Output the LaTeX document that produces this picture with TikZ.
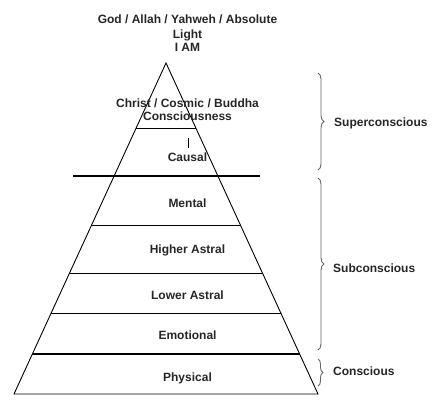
\documentclass[tikz,border=0pt]{standalone}
\usepackage{fontspec}
\setmainfont{Liberation Sans}
\usetikzlibrary{calc,decorations.pathreplacing}
\begin{document}
\begin{tikzpicture}[x=1pt,y=-1pt,
  lbl/.style={font=\bfseries\fontsize{12}{14}\selectfont, inner sep=0pt, anchor=base, text=black!85},
  side/.style={font=\bfseries\fontsize{12}{14}\selectfont, inner sep=0pt, anchor=base west, text=black!85},
  layer/.style={line width=0.9pt},
  divider/.style={line width=1.8pt},
  bracket/.style={decorate, decoration={brace, amplitude=6pt}, draw=black!60, line width=0.9pt}]
\useasboundingbox (0,0) rectangle (435,412);
\coordinate (apex) at (166,63);
\coordinate (bl) at (14,394);
\coordinate (brc) at (318,394);
\draw[layer] (bl) -- (apex) -- (brc) -- cycle;
% layer lines
\draw[layer] ($(apex)!0.1964!(bl)$) -- ($(apex)!0.1964!(brc)$);
\draw[layer] ($(apex)!0.4894!(bl)$) -- ($(apex)!0.4894!(brc)$);
\draw[layer] ($(apex)!0.6344!(bl)$) -- ($(apex)!0.6344!(brc)$);
\draw[layer] ($(apex)!0.7553!(bl)$) -- ($(apex)!0.7553!(brc)$);
\draw[divider] ($(apex)!0.8792!(bl)$) -- ($(apex)!0.8792!(brc)$);
\coordinate (dl) at (73,176);
\coordinate (dr) at (260,176);
\draw[divider] (dl) -- (dr);
% small tick
\coordinate (t1) at (188,138);
\coordinate (t2) at (188,148);
\draw[line width=0.8pt] (t1) -- (t2);
% labels
\node[lbl] (god) at (187.5,24) {God / Allah / Yahweh / Absolute};
\node[lbl] (light) at (187.5,38) {Light};
\node[lbl] (iam) at (187.5,51.5) {I AM};
\node[lbl] (christ) at (187.5,107) {Christ / Cosmic / Buddha};
\node[lbl] (consc) at (187.5,120) {Consciousness};
\node[lbl] (causal) at (187.5,161) {Causal};
\node[lbl] (mental) at (187.5,207) {Mental};
\node[lbl] (higher) at (187.5,253) {Higher Astral};
\node[lbl] (lower) at (187.5,299) {Lower Astral};
\node[lbl] (emot) at (187.5,339) {Emotional};
\node[lbl] (phys) at (187.5,381) {Physical};
% braces
\coordinate (s1) at (318,73);
\coordinate (s2) at (318,170);
\coordinate (b1) at (318,178);
\coordinate (b2) at (318,350);
\coordinate (c1) at (318,359);
\coordinate (c2) at (318,386);
\draw[bracket] (s1) -- (s2);
\draw[bracket] (b1) -- (b2);
\draw[bracket, decoration={brace, amplitude=5pt}] (c1) -- (c2);
\node[side] (super) at (334,126) {Superconscious};
\node[side] (sub) at (333,272) {Subconscious};
\node[side] (con) at (333,375) {Conscious};
\end{tikzpicture}
\end{document}
